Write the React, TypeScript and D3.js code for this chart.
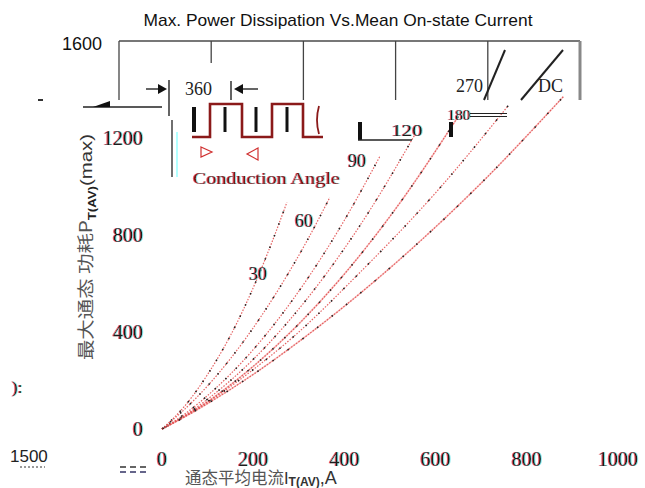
import * as d3 from 'd3';
import * as React from 'react';

const W = 645;
const H = 488;

// mean on-state current (A) vs max power dissipation (W)
const series = ['30', '60', '90', '120', '180', '270', 'DC'];
const curve30 = [[0, 0], [50, 95], [100, 225], [150, 385], [208, 617], [240, 765], [274, 935]];
const curve60 = [[0, 0], [50, 82], [100, 178], [200, 417], [269, 617], [320, 783], [368, 955]];
const curve90 = [[0, 0], [50, 62], [100, 138], [200, 327], [318, 617], [400, 861], [478, 1125]];
const curve120 = [[0, 0], [50, 56], [100, 123], [200, 287], [351, 617], [450, 885], [555, 1215]];
const curve180 = [[0, 0], [50, 53], [100, 113], [200, 258], [390, 617], [520, 928], [650, 1290]];
const curve270 = [[0, 0], [50, 52], [100, 110], [200, 245], [300, 400], [419, 617], [600, 974], [760, 1335]];
const curveDC = [[0, 0], [50, 50], [100, 105], [200, 225], [300, 360], [471, 617], [700, 1014], [880, 1370]];
const curves = [curve30, curve60, curve90, curve120, curve180, curve270, curveDC];

const xTicks = [0, 200, 400, 600, 800, 1000];
const yTicks = [0, 400, 800, 1200];
const topLabel = '1600';

const serif = '"Liberation Serif", "DejaVu Serif", serif';
const sans = '"Liberation Sans", Arial, sans-serif';
const cjk = '"Noto Sans CJK SC", "Noto Sans", sans-serif';

/**
 * Text with the red / cyan fringe the scanned original has (one text, an svg filter does the fringe)
 */
function Fringe(props: any) {
    const { x, y, size, anchor = 'start', fill = '#1a1a1a', family = serif, len } = props;
    const extra: any = {};
    if (len) {
        extra.textLength = len;
        extra.lengthAdjust = 'spacingAndGlyphs';
    }
    return (
        <text x={x} y={y} fontSize={size} fontFamily={family} textAnchor={anchor} fill={fill}
            filter="url(#fringe)" {...extra}>
            {props.children}
        </text>
    );
}

export default function App() {
    const x = d3.scaleLinear().domain([0, 1000]).range([162, 618]);
    const y = d3.scaleLinear().domain([0, 1600]).range([429, 41]);
    // the frame overlaid at the top is a shifted copy of the x grid
    const frameX = d3.scaleLinear().domain([0, 1000]).range([119, 580]);

    const line = d3.line<number[]>()
        .x(d => x(d[0]))
        .y(d => y(d[1]))
        .curve(d3.curveMonotoneX);

    const wave = d3.line<number[]>().curve(d3.curveStepAfter);
    const wavePts = [[192, 137], [210, 104], [242, 137], [272, 104], [303, 137], [323, 137]];

    const top = y(1600);

    return (
        <svg width={W} height={H} style={{ position: 'absolute', left: 0, top: 0, background: '#fff' }}>
            <defs>
                <filter id="fringe" x="-10%" y="-10%" width="120%" height="120%">
                    <feOffset in="SourceAlpha" dx={-1} dy={0} result="la" />
                    <feFlood floodColor="#e8303a" floodOpacity={0.8} result="rc" />
                    <feComposite in="rc" in2="la" operator="in" result="red" />
                    <feOffset in="SourceAlpha" dx={1} dy={0} result="ra" />
                    <feFlood floodColor="#30d8e0" floodOpacity={0.55} result="cc" />
                    <feComposite in="cc" in2="ra" operator="in" result="cyan" />
                    <feMerge>
                        <feMergeNode in="red" />
                        <feMergeNode in="cyan" />
                        <feMergeNode in="SourceGraphic" />
                    </feMerge>
                </filter>
            </defs>

            {/* title */}
            <text x={338} y={26} fontSize={17} fontFamily={sans} textAnchor="middle" fill="#111"
                textLength={389} lengthAdjust="spacingAndGlyphs">
                Max. Power Dissipation Vs.Mean On-state Current
            </text>

            {/* top frame */}
            <text x={102} y={50} fontSize={18} fontFamily={sans} textAnchor="end" fill="#111">{topLabel}</text>
            <line x1={frameX(0)} x2={frameX(1000)} y1={top} y2={top} stroke="#777" strokeWidth={2} />
            {xTicks.map((t, i) => (
                <line key={t} x1={frameX(t)} x2={frameX(t)} y1={top} y2={i === 1 ? 63 : 100}
                    stroke={i === xTicks.length - 1 ? '#888' : '#444'}
                    strokeWidth={i === xTicks.length - 1 ? 3 : 1.3} />
            ))}

            {/* curves */}
            {curves.map((c, i) => (
                <g key={series[i]} fill="none">
                    {(i === 4 || i === 6) && (
                        <path d={line(c) || ''} stroke="#f08080" strokeWidth={1.6} opacity={0.45} />
                    )}
                    <path d={line(c) || ''} stroke="#e04848" strokeWidth={1.2} strokeDasharray="1.5 1.5" opacity={0.85} />
                    <path d={line(c) || ''} stroke="#222" strokeWidth={1.6} strokeDasharray={`1.5 ${11 + i}`}
                        strokeDashoffset={i * 3} />
                </g>
            ))}

            {/* curve labels */}
            <Fringe x={258} y={280} size={18} anchor="middle">30</Fringe>
            <Fringe x={304} y={227} size={18} anchor="middle">60</Fringe>
            <Fringe x={357} y={167} size={18} anchor="middle">90</Fringe>
            <Fringe x={407} y={136} size={16} anchor="middle" len={31}>120</Fringe>
            <Fringe x={459} y={120} size={15} anchor="middle" len={23}>180</Fringe>
            <text x={456} y={92} fontSize={18} fontFamily={serif} fill="#222">270</text>
            <text x={538} y={92} fontSize={18} fontFamily={serif} fill="#222">DC</text>
            <line x1={505} y1={50} x2={484} y2={100} stroke="#222" strokeWidth={2} />
            <line x1={563} y1={50} x2={521} y2={100} stroke="#222" strokeWidth={2} />

            {/* bits of the inset near 90 / 120 / 180 */}
            <line x1={360} x2={360} y1={122} y2={140} stroke="#111" strokeWidth={4} />
            <line x1={358} x2={412} y1={140} y2={140} stroke="#222" strokeWidth={1.5} />
            <line x1={451} x2={451} y1={122} y2={137} stroke="#111" strokeWidth={4} />
            <line x1={470} x2={507} y1={113.5} y2={113.5} stroke="#222" strokeWidth={1.2} />
            <line x1={470} x2={507} y1={116.5} y2={116.5} stroke="#222" strokeWidth={1.2} />

            {/* 360 inset */}
            <line x1={83} x2={162} y1={107} y2={107} stroke="#222" strokeWidth={1.3} />
            <polygon points="93,107 110,101 110,107" fill="#111" />
            <line x1={38} x2={43} y1={100} y2={100} stroke="#333" strokeWidth={2} />
            <line x1={146} x2={160} y1={89} y2={89} stroke="#111" strokeWidth={1.3} />
            <polygon points="158,84 167,89 158,94" fill="#111" />
            <line x1={169} x2={169} y1={80} y2={116} stroke="#111" strokeWidth={1.3} />
            <text x={185} y={95} fontSize={18} fontFamily={serif} fill="#222">360</text>
            <line x1={231} x2={231} y1={81} y2={100} stroke="#111" strokeWidth={1.3} />
            <polygon points="243,84 234,89 243,94" fill="#111" />
            <line x1={241} x2={258} y1={89} y2={89} stroke="#111" strokeWidth={1.3} />
            <line x1={172} x2={172} y1={120} y2={177} stroke="#222" strokeWidth={1.3} />
            <line x1={177} x2={177} y1={132} y2={177} stroke="#8ff" strokeWidth={1.3} />

            <path d={wave(wavePts as [number, number][]) || ''} fill="none" stroke="#8b1a1a" strokeWidth={2.6} />
            {[194, 225, 256, 287].map(bx => (
                <line key={bx} x1={bx} x2={bx} y1={107} y2={132} stroke="#111" strokeWidth={bx === 194 ? 4 : 3} />
            ))}
            <path d="M319,106 Q315,120 319,134" fill="none" stroke="#8b1a1a" strokeWidth={1.8} />
            <polygon points="201,147 212,152 201,157" fill="none" stroke="#d03030" strokeWidth={1.2} />
            <polygon points="258,148 247,154 258,160" fill="none" stroke="#d03030" strokeWidth={1.2} />
            <Fringe x={193} y={184} size={17} fill="#7a1414" len={147}>Conduction Angle</Fringe>

            {/* axis labels */}
            {xTicks.map(t => (
                <Fringe key={t} x={x(t)} y={466} size={20} anchor="middle">{t}</Fringe>
            ))}
            {yTicks.map(t => (
                <Fringe key={t} x={143} y={y(t) + 7} size={20} anchor="end">{t}</Fringe>
            ))}

            <g transform="translate(92,247) rotate(-90) scale(1.2,1)">
                <text x={0} y={0} textAnchor="middle" fontFamily={cjk} fontSize={17} fill="#555">
                    最大通态 功耗P
                    <tspan fontFamily={sans} fontSize={11} fontWeight="bold" dy={4} fill="#222">T(AV)</tspan>
                    <tspan fontFamily={sans} fontSize={17} dy={-4} fill="#333">(max)</tspan>
                </text>
            </g>

            <text x={185} y={484} fontFamily={cjk} fontSize={16.5} fill="#555">
                通态平均电流
                <tspan fontFamily={sans} fill="#333">I</tspan>
                <tspan fontFamily={sans} fontSize={12} fontWeight="bold" dy={2} fill="#333">T(AV)</tspan>
                <tspan fontFamily={sans} fontSize={18} dy={-2} fill="#333">,A</tspan>
            </text>

            {/* scan debris on the left edge */}
            <Fringe x={12} y={393} size={17}>):</Fringe>
            <text x={10} y={462} fontSize={17} fontFamily={sans} fill="#222">1500</text>
            <line x1={20} x2={45} y1={467} y2={467} stroke="#333" strokeDasharray="2 2" />
            <line x1={120} x2={148} y1={467} y2={467} stroke="#333" strokeWidth={1.4} strokeDasharray="6 4" />
            <line x1={120} x2={148} y1={472} y2={472} stroke="#336" strokeWidth={1.4} strokeDasharray="6 4" />
        </svg>
    );
}
